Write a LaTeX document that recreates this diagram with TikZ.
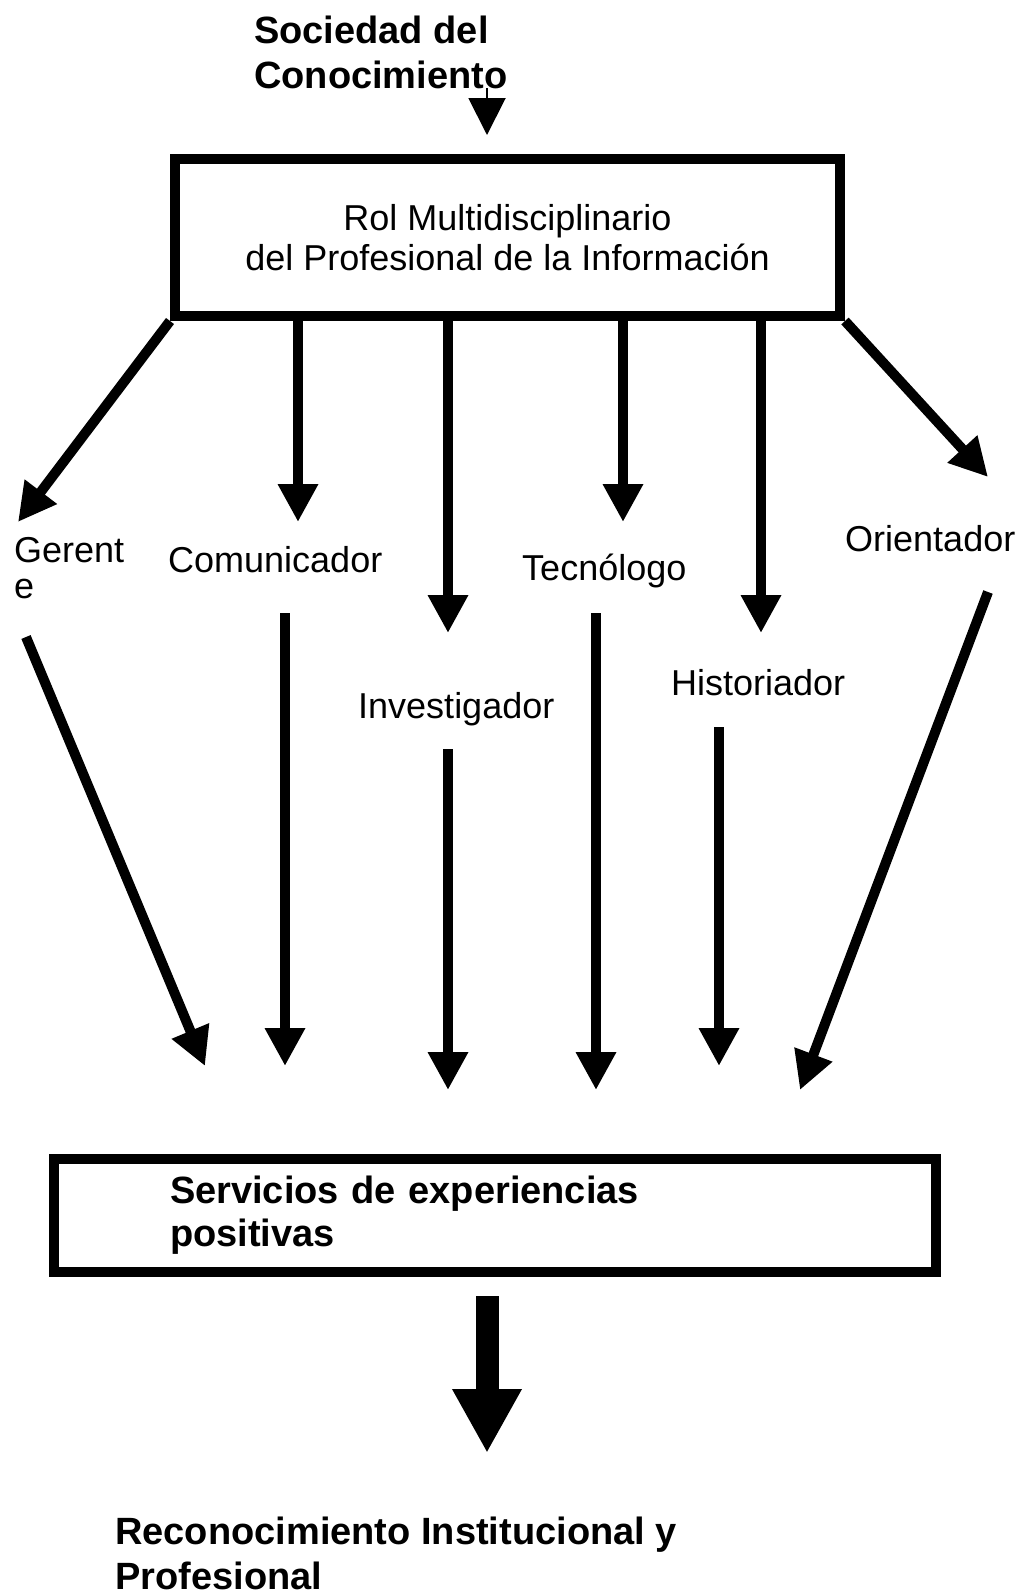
\documentclass[tikz,border=0pt]{standalone}
\usepackage{fontspec}
\setmainfont{Liberation Sans}
\usetikzlibrary{arrows.meta}
\begin{document}
\begin{tikzpicture}[x=1pt,y=-1pt,
  lbl/.style={font=\fontsize{36}{36}\selectfont, inner sep=0pt, anchor=base west, align=left},
  blbl/.style={font=\fontsize{38}{45}\selectfont\bfseries, inner sep=0pt, anchor=base west, align=left},
  boxstyle/.style={draw, line width=10pt, inner sep=0pt},
  arrup/.style={line width=10pt, -{Triangle[width=38pt,length=38pt]}},
  arrlow/.style={line width=10pt, -{Triangle[width=38pt,length=38pt]}},
]
\useasboundingbox (0,0) rectangle (1033,1596);
\fill[white] (0,0) rectangle (1033,1596);

% top text and arrow (base anchor = baseline of last line)
\node[blbl] (soc) at (254,88) {Sociedad del\\Conocimiento};
\coordinate (socTip) at (487,135);

% main box
\node[boxstyle, minimum width=665pt, minimum height=157pt,
      font=\fontsize{36}{40}\selectfont, align=center] (rol) at (507.5,237.5)
      {Rol Multidisciplinario\\del Profesional de la Información};

\draw[line width=2pt, -{Triangle[width=37pt,length=37pt]}] (soc.base -| socTip) -- (socTip);

% role labels
\node[lbl] (ger) at (14,598) {Gerent\\e};
\node[lbl] (com) at (168,572) {Comunicador};
\node[lbl] (tec) at (522,580) {Tecnólogo};
\node[lbl] (ori) at (845,551) {Orientador};
\node[lbl] (inv) at (358,718) {Investigador};
\node[lbl] (his) at (671,695) {Historiador};

% upper arrow tips
\coordinate (gerTip) at (18,522);
\coordinate (comTip) at (298,522);
\coordinate (invTip) at (448,633);
\coordinate (tecTip) at (623,522);
\coordinate (hisTip) at (761,633);
\coordinate (oriTip) at (988,477);

\draw[arrup] (rol.south west) -- (gerTip);
\draw[arrup] (rol.south -| comTip) -- (comTip);
\draw[arrup] (rol.south -| invTip) -- (invTip);
\draw[arrup] (rol.south -| tecTip) -- (tecTip);
\draw[arrup] (rol.south -| hisTip) -- (hisTip);
\draw[arrup] (rol.south east) -- (oriTip);

% lower arrows
\coordinate (gerA) at (26,637);   \coordinate (gerB) at (205,1066);
\coordinate (comA) at (285,613);  \coordinate (comB) at (285,1066);
\coordinate (invA) at (448,749);  \coordinate (invB) at (448,1090);
\coordinate (tecA) at (596,613);  \coordinate (tecB) at (596,1090);
\coordinate (hisA) at (719,727);  \coordinate (hisB) at (719,1066);
\coordinate (oriA) at (988,592);  \coordinate (oriB) at (800,1090);

\draw[arrlow] (gerA) -- (gerB);
\draw[arrlow] (comA) -- (comB);
\draw[arrlow] (invA) -- (invB);
\draw[arrlow] (tecA) -- (tecB);
\draw[arrlow] (hisA) -- (hisB);
\draw[arrlow] (oriA) -- (oriB);

% services box
\node[boxstyle, minimum height=113pt, inner xsep=116pt, text width=650pt,
      font=\fontsize{38}{43}\selectfont\bfseries, align=left] (serv) at (495,1215.5)
      {Servicios de experiencias\\positivas};

% big arrow
\coordinate (bigTip) at (487,1453);
\draw[line width=23pt, -{Triangle[width=65pt,length=64pt]}, shorten <=19pt] (serv.south -| bigTip) -- (bigTip);

% bottom text
\node[blbl] (rec) at (115,1589) {Reconocimiento Institucional y\\Profesional};
\end{tikzpicture}
\end{document}
